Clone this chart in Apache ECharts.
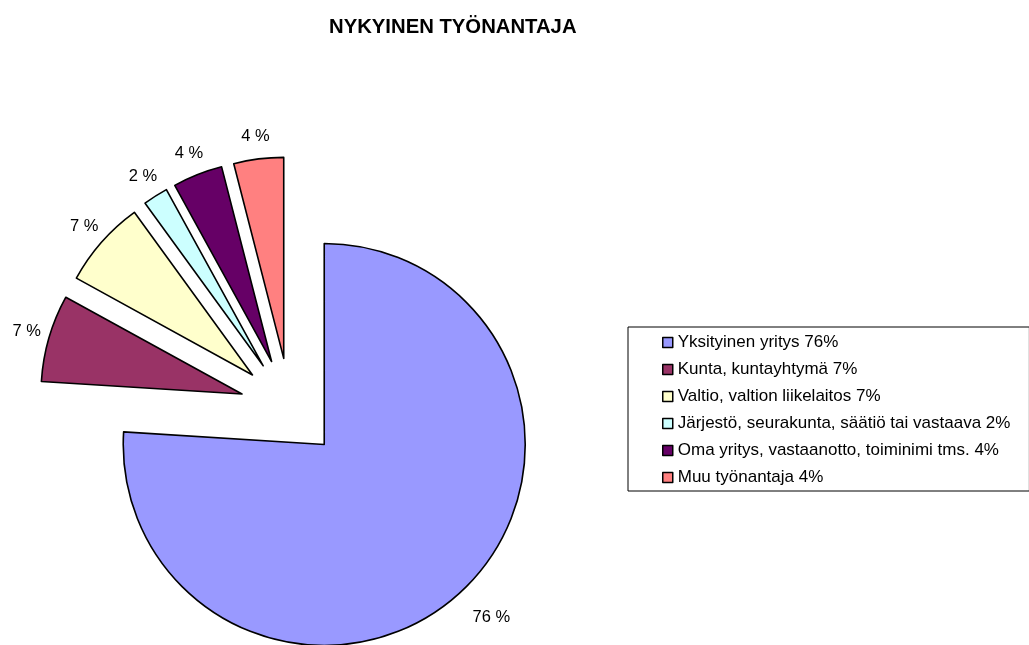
<!DOCTYPE html>
<html>
<head>
<meta charset="utf-8">
<script src="https://cdn.jsdelivr.net/npm/echarts@6/dist/echarts.min.js"></script>
<style>
  html, body { margin: 0; padding: 0; background: #fff; }
  #chart { width: 1029px; height: 645px; }
</style>
</head>
<body>
<div id="chart"></div>
<script>
var categories = ['Yksityinen yritys', 'Kunta, kuntayhtymä', 'Valtio, valtion liikelaitos',
    'Järjestö, seurakunta, säätiö tai vastaava', 'Oma yritys, vastaanotto, toiminimi tms.', 'Muu työnantaja'];
var values = [76, 7, 7, 2, 4, 4];
var colors = ['#9999FF', '#993366', '#FFFFCC', '#CCFFFF', '#660066', '#FF8080'];

var font = '"Liberation Sans", Arial, sans-serif';
var chart = echarts.init(document.getElementById('chart'));

// every slice is pulled out; the big one gets its label a bit further away
var pieData = categories.map(function (name, i) {
    var item = { name: name, value: values[i], selected: true };
    if (i === 0) item.labelLine = { length: 36 };
    return item;
});

option = {
    animation: false,
    color: colors,
    title: {
        text: 'NYKYINEN TYÖNANTAJA',
        left: 329,
        top: 17,
        padding: 0,
        textStyle: { fontFamily: font, fontSize: 20.3, fontWeight: 'bold', color: '#000' }
    },
    legend: {
        orient: 'vertical',
        left: 628,
        top: 327,
        padding: [7, 19, 5, 34],
        itemGap: 10,
        itemWidth: 10,
        itemHeight: 10,
        icon: 'rect',
        borderColor: '#000',
        borderWidth: 1,
        selectedMode: false,
        itemStyle: { borderColor: '#000', borderWidth: 1.5 },
        textStyle: { fontFamily: font, fontSize: 17, color: '#000', padding: 0 },
        formatter: function (name) {
            return name + ' ' + values[categories.indexOf(name)] + '%';
        },
        data: categories
    },
    series: [{
        type: 'pie',
        center: [290, 408],
        radius: 201,
        startAngle: 90,
        clockwise: true,
        selectedMode: 'multiple',
        selectedOffset: 50,
        avoidLabelOverlap: false,
        emphasis: { disabled: true },
        itemStyle: { borderColor: '#000', borderWidth: 1.6 },
        label: {
            show: true,
            position: 'outside',
            formatter: '{c} %',
            fontFamily: font,
            fontSize: 16.5,
            color: '#000',
            distanceToLabelLine: -14
        },
        labelLine: { show: false, length: 23, length2: 0 },
        data: pieData
    }]
};

chart.setOption(option);
</script>
</body>
</html>
